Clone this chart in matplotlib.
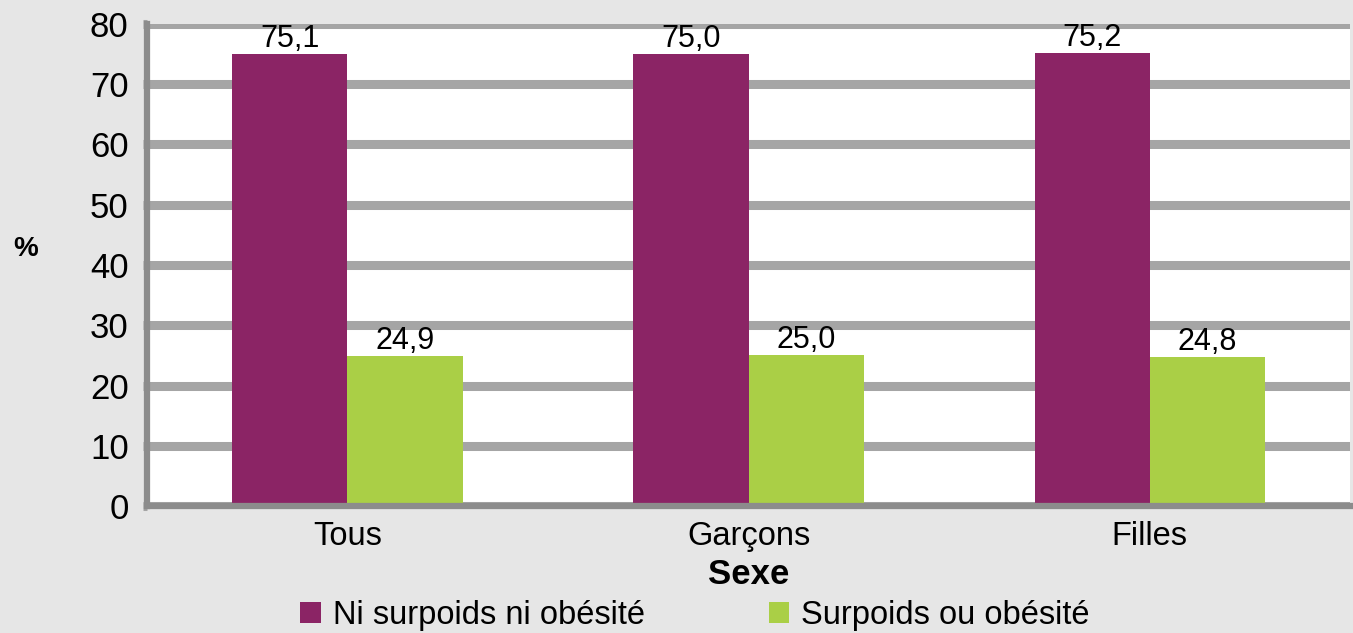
import numpy as np
import matplotlib.pyplot as plt

plt.rcParams['font.family'] = ['Liberation Sans', 'DejaVu Sans']

categories = ["Tous", "Garçons", "Filles"]
series_names = ["Ni surpoids ni obésité", "Surpoids ou obésité"]
ni_surpoids = [75.1, 75.0, 75.2]
surpoids = [24.9, 25.0, 24.8]
colors = ["#8b2465", "#aacf46"]
yticks = [0, 10, 20, 30, 40, 50, 60, 70, 80]

fig = plt.figure(figsize=(13.53, 6.33), dpi=100, facecolor="#e6e6e6")
ax = fig.add_axes([0.1085, 0.2006, 0.8895, 0.7615])
ax.set_facecolor("white")

x = np.arange(len(categories))
w = 0.287
for i, (vals, col, name) in enumerate(zip([ni_surpoids, surpoids], colors, series_names)):
  pos = x + (i - 0.5) * w
  bars = ax.bar(pos, vals, width=w, color=col, label=name, zorder=3)
  for b, v in zip(bars, vals):
    ax.annotate(f"{v:.1f}".replace(".", ","), (b.get_x() + b.get_width() / 2, v),
                xytext=(0, 0), textcoords="offset points",
                ha="center", va="bottom", fontsize=22, zorder=4)

ax.set_xlim(-0.5, 2.5)
ax.set_ylim(0, 80)
ax.set_yticks(yticks)
ax.set_yticklabels([str(t) for t in yticks], fontsize=25)
ax.set_xticks(x)
ax.set_xticklabels(categories, fontsize=23.5)
ax.tick_params(axis="x", length=0, pad=11)
ax.tick_params(axis="y", length=3, width=6.5, color="#a5a5a5", pad=10)
ax.yaxis.grid(True, color="#a5a5a5", linewidth=6.5, zorder=1)
ax.set_axisbelow(True)
for s in ["top", "right"]:
  ax.spines[s].set_visible(False)
for s in ["left", "bottom"]:
  ax.spines[s].set_color("#8c8c8c")
  ax.spines[s].set_linewidth(4.5)
  ax.spines[s].set_zorder(5)

ax.set_xlabel("Sexe", fontsize=25, fontweight="bold", labelpad=4)
fig.text(0.019, 0.607, "%", fontsize=20, fontweight="bold", ha="center", va="center")

handles, labels = ax.get_legend_handles_labels()
fig.legend(handles, labels, loc="center", bbox_to_anchor=(695 / 1353, 0.028), ncol=2,
           frameon=False, fontsize=23.5, handlelength=0.63, handleheight=0.63,
           columnspacing=3.8, handletextpad=0.37, borderpad=0, borderaxespad=0)

fig.savefig("out.png", dpi=100, facecolor=fig.get_facecolor())
